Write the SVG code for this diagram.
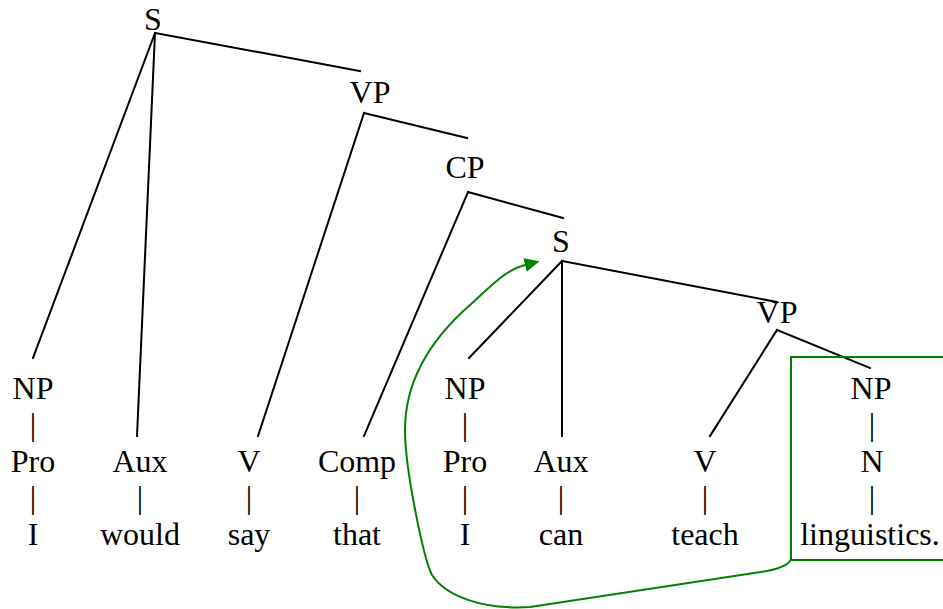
<svg xmlns="http://www.w3.org/2000/svg" width="943" height="609" viewBox="0 0 943 609">
<style>
text{font-family:"Liberation Serif","Times New Roman",serif;font-size:32px;fill:#000;text-anchor:middle}
.e{stroke:#000;stroke-width:2;fill:none;stroke-linecap:square}
.g{stroke:#008000;stroke-width:2;fill:none}
</style>
<defs>
<marker id="ah" markerUnits="userSpaceOnUse" markerWidth="15" markerHeight="14" refX="0" refY="7" orient="auto" viewBox="0 0 15 14">
<path d="M0,0 L15,7 L0,14 z" fill="#008000"/>
</marker>
</defs>
<g id="connectors">
<line class="e" x1="155" y1="33" x2="360" y2="71"/>
<line class="e" x1="155" y1="33" x2="33" y2="358"/>
<line class="e" x1="155" y1="33" x2="137" y2="436"/>
<line class="e" x1="364" y1="113" x2="467" y2="138"/>
<line class="e" x1="364" y1="113" x2="258" y2="436"/>
<line class="e" x1="468" y1="192" x2="563" y2="218"/>
<line class="e" x1="468" y1="192" x2="364" y2="436"/>
<line class="e" x1="562" y1="261" x2="777" y2="302"/>
<line class="e" x1="562" y1="261" x2="469" y2="358"/>
<line class="e" x1="562" y1="261" x2="562" y2="436"/>
<line class="e" x1="777" y1="330" x2="870" y2="368"/>
<line class="e" x1="777" y1="330" x2="710" y2="436"/>
<path class="g" d="M791,558 Q791,566 767,571 L530,607 C480,610 445,595 432,575 C424,560 405,470 405,430 C405,380 430,340 470,305 C490,287 505,270 525,265" marker-end="url(#ah)"/>
</g>
<g id="box">
<path class="g" d="M946,357 L791,357 L791,560 L946,560"/>
</g>
<g id="S1"><text x="153" y="30">S</text></g>
<g id="VP1"><text x="370" y="103">VP</text></g>
<g id="CP"><text x="465" y="178">CP</text></g>
<g id="S2"><text x="561" y="252">S</text></g>
<g id="VP2"><text x="777" y="323">VP</text></g>
<g id="col1"><text x="33" y="399">NP</text><text x="33" y="435">|</text><text x="33" y="472">Pro</text><text x="33" y="508">|</text><text x="33" y="545">I</text></g>
<g id="col2"><text x="140" y="472">Aux</text><text x="140" y="508">|</text><text x="140" y="545">would</text></g>
<g id="col3"><text x="249" y="472">V</text><text x="249" y="508">|</text><text x="249" y="545">say</text></g>
<g id="col4"><text x="357" y="472">Comp</text><text x="357" y="508">|</text><text x="357" y="545">that</text></g>
<g id="col5"><text x="465" y="399">NP</text><text x="465" y="435">|</text><text x="465" y="472">Pro</text><text x="465" y="508">|</text><text x="465" y="545">I</text></g>
<g id="col6"><text x="561" y="472">Aux</text><text x="561" y="508">|</text><text x="561" y="545">can</text></g>
<g id="col7"><text x="705" y="472">V</text><text x="705" y="508">|</text><text x="705" y="545">teach</text></g>
<g id="col8"><text x="871" y="399">NP</text><text x="872" y="435">|</text><text x="872" y="472">N</text><text x="872" y="508">|</text><text x="870" y="545">linguistics.</text></g>
</svg>
